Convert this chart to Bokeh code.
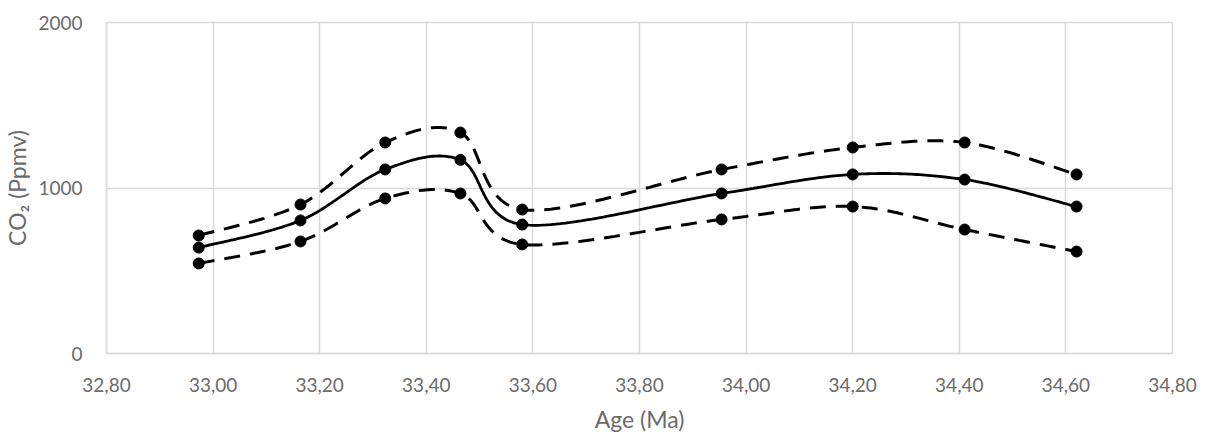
import numpy as np
from bokeh.plotting import figure
from bokeh.models import FixedTicker, CustomJSTickFormatter, Range1d
from bokeh.embed import file_html
from bokeh.resources import INLINE

# Age (Ma) of each sample and reconstructed CO2 (ppmv): best estimate with upper/lower bounds
age = [32.973, 33.164, 33.323, 33.464, 33.58, 33.954, 34.20, 34.41, 34.62]
co2_mid = [640, 804, 1112, 1170, 779, 967, 1082, 1051, 888]
co2_upper = [713, 900, 1275, 1335, 870, 1112, 1245, 1275, 1082]
co2_lower = [544, 677, 937, 967, 659, 810, 888, 749, 616]

x_ticks = [32.8, 33.0, 33.2, 33.4, 33.6, 33.8, 34.0, 34.2, 34.4, 34.6, 34.8]
y_ticks = [0, 1000, 2000]

FONT = "Lato"
TEXT = "#6b6b6b"
GRID = "#d9d9d9"


def smooth(xs, ys, n=40):
    """Cubic Bezier smoothing through every point (control points from neighbours)."""
    x = np.asarray(xs, float)
    y = np.asarray(ys, float)
    px = np.concatenate([[x[0]], x, [x[-1]]])
    py = np.concatenate([[y[0]], y, [y[-1]]])
    outx, outy = [], []
    t = np.linspace(0, 1, n)
    for i in range(len(x) - 1):
        p0 = np.array([x[i], y[i]])
        p3 = np.array([x[i + 1], y[i + 1]])
        p1 = p0 + (np.array([px[i + 2], py[i + 2]]) - np.array([px[i], py[i]])) / 6.0
        p2 = p3 - (np.array([px[i + 3], py[i + 3]]) - np.array([px[i + 1], py[i + 1]])) / 6.0
        b = ((1 - t) ** 3)[:, None] * p0 + (3 * (1 - t) ** 2 * t)[:, None] * p1 \
            + (3 * (1 - t) * t ** 2)[:, None] * p2 + (t ** 3)[:, None] * p3
        outx.extend(b[:, 0])
        outy.extend(b[:, 1])
    return outx, outy


p = figure(width=1208, height=435, output_backend="svg", toolbar_location=None,
           x_range=Range1d(32.8, 34.8), y_range=Range1d(0, 2000),
           min_border_left=106, min_border_right=36, min_border_top=22,
           min_border_bottom=82)
p.background_fill_color = "white"
p.border_fill_color = "white"
p.outline_line_color = GRID
p.outline_line_width = 1.5

for series, dash, lw in ((co2_upper, "16 10", 3), (co2_lower, "16 10", 3), (co2_mid, "solid", 2.8)):
    sx, sy = smooth(age, series)
    p.line(sx, sy, line_color="black", line_width=lw, line_dash=dash)
    p.scatter(age, series, size=11, color="black")

p.xaxis.ticker = FixedTicker(ticks=x_ticks)
p.yaxis.ticker = FixedTicker(ticks=y_ticks)
p.xaxis.formatter = CustomJSTickFormatter(code="return tick.toFixed(2).replace('.', ',');")
p.yaxis.formatter = CustomJSTickFormatter(code="return tick.toFixed(0);")

for ax in (p.xaxis, p.yaxis):
    ax.axis_line_color = GRID
    ax.axis_line_width = 1.5
    ax.major_tick_line_color = None
    ax.minor_tick_line_color = None
    ax.major_label_text_font = FONT
    ax.major_label_text_font_size = "19px"
    ax.major_label_text_color = TEXT
    ax.axis_label_text_font = FONT
    ax.axis_label_text_font_size = "23px"
    ax.axis_label_text_color = TEXT
    ax.axis_label_text_font_style = "normal"

p.xaxis.major_label_standoff = 18
p.yaxis.major_label_standoff = 18
p.xaxis.axis_label = "Age (Ma)"
p.yaxis.axis_label = "CO\u2082 (Ppmv)"
p.xaxis.axis_label_standoff = 10
p.yaxis.axis_label_standoff = 4

p.xgrid.grid_line_color = GRID
p.ygrid.grid_line_color = GRID
p.xgrid.grid_line_width = 1.5
p.ygrid.grid_line_width = 1.5

open("out.html", "w").write(file_html(p, INLINE))
